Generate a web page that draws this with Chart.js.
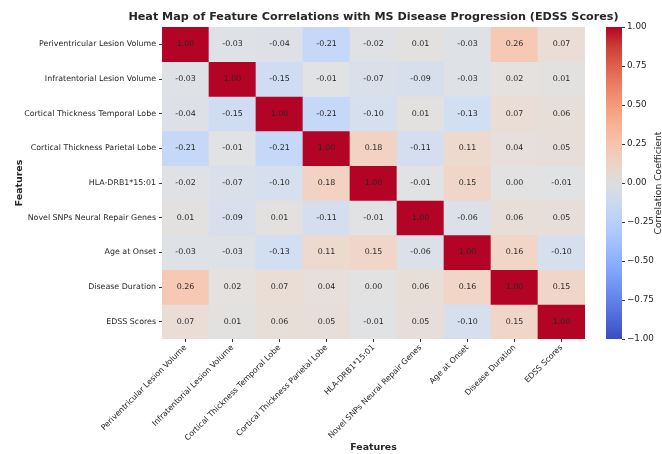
<!DOCTYPE html>
<html>
<head>
<meta charset="utf-8">
<script src="https://cdn.jsdelivr.net/npm/chart.js@4/dist/chart.umd.min.js"></script>
<style>
  html, body { margin: 0; padding: 0; background: #fff; }
  #wrap { position: relative; width: 662px; height: 454px; overflow: hidden; }
  #main { position: absolute; left: 0; top: 0; }
  #cbar { position: absolute; left: 596px; top: 0; }
</style>
</head>
<body>
<div id="wrap">
  <canvas id="main" width="662" height="454"></canvas>
  <canvas id="cbar" width="66" height="454"></canvas>
</div>
<script>
const TITLE = 'Heat Map of Feature Correlations with MS Disease Progression (EDSS Scores)';
const AXIS_TITLE = 'Features';
const CBAR_TITLE = 'Correlation Coefficient';

const features = [
  'Periventricular Lesion Volume',
  'Infratentorial Lesion Volume',
  'Cortical Thickness Temporal Lobe',
  'Cortical Thickness Parietal Lobe',
  'HLA-DRB1*15:01',
  'Novel SNPs Neural Repair Genes',
  'Age at Onset',
  'Disease Duration',
  'EDSS Scores'
];

const rowPeriventricular = [1.00, -0.03, -0.04, -0.21, -0.02, 0.01, -0.03, 0.26, 0.07];
const rowInfratentorial  = [-0.03, 1.00, -0.15, -0.01, -0.07, -0.09, -0.03, 0.02, 0.01];
const rowCortTemporal    = [-0.04, -0.15, 1.00, -0.21, -0.10, 0.01, -0.13, 0.07, 0.06];
const rowCortParietal    = [-0.21, -0.01, -0.21, 1.00, 0.18, -0.11, 0.11, 0.04, 0.05];
const rowHLA             = [-0.02, -0.07, -0.10, 0.18, 1.00, -0.01, 0.15, 0.00, -0.01];
const rowNovelSNPs       = [0.01, -0.09, 0.01, -0.11, -0.01, 1.00, -0.06, 0.06, 0.05];
const rowAgeOnset        = [-0.03, -0.03, -0.13, 0.11, 0.15, -0.06, 1.00, 0.16, -0.10];
const rowDuration        = [0.26, 0.02, 0.07, 0.04, 0.00, 0.06, 0.16, 1.00, 0.15];
const rowEDSS            = [0.07, 0.01, 0.06, 0.05, -0.01, 0.05, -0.10, 0.15, 1.00];

const matrixRows = [rowPeriventricular, rowInfratentorial, rowCortTemporal, rowCortParietal,
  rowHLA, rowNovelSNPs, rowAgeOnset, rowDuration, rowEDSS];

const cbarTicks = [-1.00, -0.75, -0.50, -0.25, 0.00, 0.25, 0.50, 0.75, 1.00];

// coolwarm colormap control points (Moreland)
const CW = [
  [0.0, 59, 76, 192], [0.0625, 77, 104, 215], [0.125, 98, 130, 234], [0.1875, 119, 154, 247],
  [0.25, 141, 176, 254], [0.3125, 163, 194, 255], [0.375, 184, 208, 249], [0.4375, 204, 217, 238],
  [0.5, 221, 221, 221], [0.5625, 236, 211, 197], [0.625, 245, 196, 173], [0.6875, 247, 177, 148],
  [0.75, 244, 154, 123], [0.8125, 236, 127, 99], [0.875, 222, 96, 77], [0.9375, 203, 62, 56],
  [1.0, 180, 4, 38]
];
function cwRGB(t) {
  t = Math.max(0, Math.min(1, t));
  for (let i = 0; i < CW.length - 1; i++) {
    const a = CW[i], b = CW[i + 1];
    if (t >= a[0] && t <= b[0]) {
      const f = (t - a[0]) / (b[0] - a[0]);
      return [a[1] + (b[1] - a[1]) * f, a[2] + (b[2] - a[2]) * f, a[3] + (b[3] - a[3]) * f];
    }
  }
  return [180, 4, 38];
}
// cell colour: coolwarm, lightened slightly for weak correlations as in the picture
function cellColor(v) {
  const c = cwRGB((v + 1) / 2);
  const a = 0.85 + 0.15 * Math.abs(v);
  const m = c.map(x => Math.round(255 * (1 - a) + x * a));
  return `rgb(${m[0]},${m[1]},${m[2]})`;
}

const FONT = "'DejaVu Sans', sans-serif";
const TXT = '#262626';

const datasets = matrixRows.map((row, r) => ({
  label: features[r],
  data: row.map(() => [r, r + 1]),
  values: row,
  backgroundColor: row.map(v => cellColor(v)),
  borderWidth: 0,
  barPercentage: 1.0,
  categoryPercentage: 1.0,
  grouped: false
}));

const annotPlugin = {
  id: 'annot',
  afterDatasetsDraw(chart) {
    const ctx = chart.ctx;
    ctx.save();
    ctx.font = `7.9px ${FONT}`;
    ctx.fillStyle = TXT;
    ctx.textAlign = 'center';
    ctx.textBaseline = 'middle';
    chart.data.datasets.forEach((ds, di) => {
      const meta = chart.getDatasetMeta(di);
      meta.data.forEach((el, i) => {
        const c = el.getCenterPoint();
        ctx.fillText(ds.values[i].toFixed(2), c.x, c.y);
      });
    });
    ctx.restore();
  }
};

const titlePlugin = {
  id: 'ctitle',
  afterDraw(chart) {
    const ctx = chart.ctx;
    const a = chart.chartArea;
    ctx.save();
    ctx.font = `bold 11.2px ${FONT}`;
    ctx.fillStyle = TXT;
    ctx.textAlign = 'center';
    ctx.textBaseline = 'middle';
    ctx.fillText(TITLE, (a.left + a.right) / 2, 17);
    ctx.restore();
  }
};

new Chart(document.getElementById('main'), {
  type: 'bar',
  data: { labels: features, datasets },
  plugins: [annotPlugin, titlePlugin],
  options: {
    responsive: false,
    animation: false,
    devicePixelRatio: 1,
    layout: { padding: { top: 27, right: 77, left: 14, bottom: 0 } },
    plugins: { legend: { display: false }, tooltip: { enabled: false }, title: { display: false } },
    scales: {
      x: {
        type: 'category',
        offset: true,
        grid: { display: true, offset: false, drawOnChartArea: false, drawTicks: true, tickLength: 3, color: '#333' },
        border: { display: false },
        ticks: {
          maxRotation: 45, minRotation: 45, autoSkip: false,
          color: TXT, font: { family: FONT, size: 7.9 }, padding: 1
        },
        title: { display: true, text: AXIS_TITLE, color: TXT, font: { family: FONT, size: 9.4, weight: 'bold' }, padding: { top: 0, bottom: 1 } },
        afterFit(scale) { scale.height = 454 - 339; }
      },
      y: {
        type: 'linear',
        min: 0, max: 9,
        reverse: true,
        grid: { display: true, drawOnChartArea: false, drawTicks: true, tickLength: 3, color: '#333' },
        border: { display: false },
        afterBuildTicks(scale) {
          scale.ticks = features.map((_, i) => ({ value: i + 0.5 }));
        },
        ticks: {
          autoSkip: false,
          color: TXT, font: { family: FONT, size: 7.9 }, padding: 3,
          callback: (v, i) => features[i]
        },
        title: { display: true, text: AXIS_TITLE, color: TXT, font: { family: FONT, size: 9.4, weight: 'bold' }, padding: 0 },
        afterFit(scale) { scale.width = 162 - 14; }
      }
    }
  }
});

const cbarTitlePlugin = {
  id: 'cbtitle',
  afterDraw(chart) {
    const ctx = chart.ctx;
    const a = chart.chartArea;
    ctx.save();
    ctx.font = `9.2px ${FONT}`;
    ctx.fillStyle = TXT;
    ctx.textAlign = 'center';
    ctx.textBaseline = 'middle';
    ctx.translate(63, (a.top + a.bottom) / 2);
    ctx.rotate(-Math.PI / 2);
    ctx.fillText(CBAR_TITLE, 0, 0);
    ctx.restore();
  }
};

new Chart(document.getElementById('cbar'), {
  type: 'bar',
  data: {
    labels: ['cb'],
    datasets: [{
      data: [[cbarTicks[0], cbarTicks[cbarTicks.length - 1]]],
      borderWidth: 0,
      barPercentage: 1.0,
      categoryPercentage: 1.0,
      backgroundColor(ctx) {
        const ch = ctx.chart;
        const a = ch.chartArea;
        if (!a) return '#ddd';
        const g = ch.ctx.createLinearGradient(0, a.bottom, 0, a.top);
        CW.forEach(p => g.addColorStop(p[0], `rgb(${p[1]},${p[2]},${p[3]})`));
        return g;
      }
    }]
  },
  plugins: [cbarTitlePlugin],
  options: {
    responsive: false,
    animation: false,
    devicePixelRatio: 1,
    layout: { padding: { top: 27, left: 10, right: 0, bottom: 0 } },
    plugins: { legend: { display: false }, tooltip: { enabled: false } },
    scales: {
      x: { display: false, afterFit(scale) { scale.height = 454 - 339; } },
      y: {
        position: 'right',
        min: -1, max: 1,
        afterBuildTicks(scale) { scale.ticks = cbarTicks.map(v => ({ value: v })); },
        grid: { display: true, drawOnChartArea: false, drawTicks: true, tickLength: 3, color: '#333' },
        border: { display: false },
        ticks: {
          color: TXT, font: { family: FONT, size: 8.8 }, padding: 2,
          callback: v => (v < 0 ? '\u2212' : '') + Math.abs(v).toFixed(2)
        },
        afterFit(scale) { scale.width = 40; }
      }
    }
  }
});
</script>
</body>
</html>
